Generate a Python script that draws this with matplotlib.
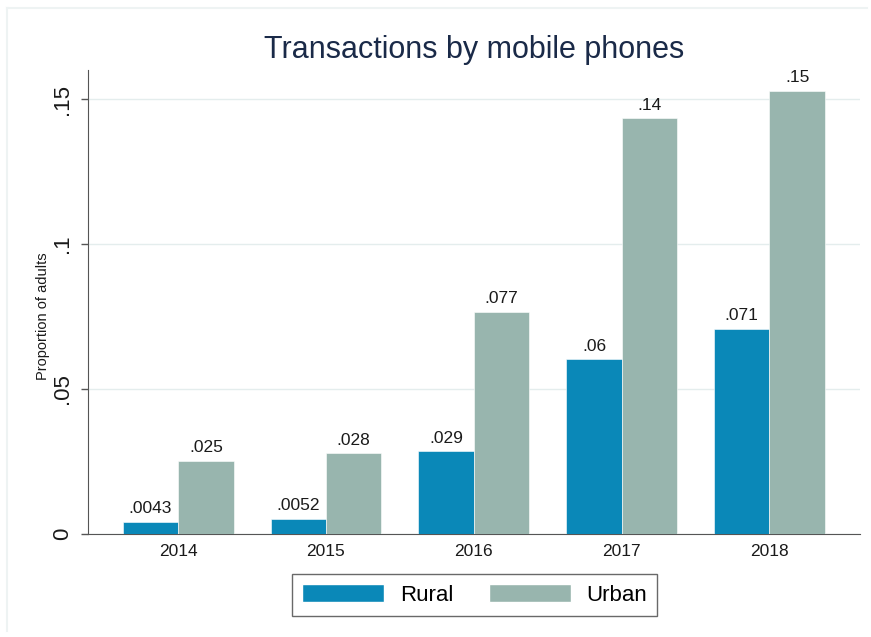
import matplotlib.pyplot as plt
from matplotlib.patches import Patch
from matplotlib.lines import Line2D
import numpy as np

plt.rcParams['font.family'] = ['Liberation Sans', 'DejaVu Sans']

years = ['2014', '2015', '2016', '2017', '2018']
rural = [0.0043, 0.0052, 0.0286, 0.0603, 0.0707]
urban = [0.0252, 0.0279, 0.0766, 0.1434, 0.1528]
rural_lbl = ['.0043', '.0052', '.029', '.06', '.071']
urban_lbl = ['.025', '.028', '.077', '.14', '.15']
yticks = [0, 0.05, 0.1, 0.15]
ytick_lbl = ['0', '.05', '.1', '.15']

c_rural = '#0a88b8'
c_urban = '#98b5ae'

fig = plt.figure(figsize=(8.71, 6.37), dpi=100)
ax = fig.add_axes([0.101, 0.1617, 0.886, 0.7283])

x = np.arange(len(years))
w = 0.375
b1 = ax.bar(x - w/2, rural, w, color=c_rural, edgecolor='white', linewidth=0.4, zorder=3)
b2 = ax.bar(x + w/2, urban, w, color=c_urban, edgecolor='white', linewidth=0.4, zorder=3)

for bars, labels in [(b1, rural_lbl), (b2, urban_lbl)]:
    for r, t in zip(bars, labels):
        ax.annotate(t, (r.get_x() + r.get_width()/2, r.get_height()),
                    xytext=(0, 4), textcoords='offset points',
                    ha='center', va='bottom', fontsize=12.5, color='#1a1a1a')

ax.set_xlim(-0.61, 4.61)
ax.set_ylim(0, 0.16)
ax.set_xticks(x)
ax.set_xticklabels(years, fontsize=12.5, color='#1a1a1a')
ax.tick_params(axis='x', length=0, pad=7)
ax.set_yticks(yticks)
ax.set_yticklabels(ytick_lbl, rotation=90, va='center', fontsize=16, color='#1a1a1a')
ax.tick_params(axis='y', length=5, width=1, color='#555555', pad=6)
ax.set_ylabel('Proportion of adults', fontsize=10.5, color='#1a1a1a')
ax.yaxis.set_label_coords(-0.049, 0.47)

ax.yaxis.grid(True, color='#e4eded', linewidth=1, zorder=0)
ax.set_axisbelow(True)
for s in ['top', 'right']:
    ax.spines[s].set_visible(False)
ax.spines['left'].set_color('#555555')
ax.spines['bottom'].set_color('#555555')

ax.set_title('Transactions by mobile phones', fontsize=22, color='#1a2a48', pad=9)

handles = [Patch(facecolor=c_rural, edgecolor='white'), Patch(facecolor=c_urban, edgecolor='white')]
leg = fig.legend(handles, ['Rural', 'Urban'], loc='center', bbox_to_anchor=(0.545, 0.066),
                 ncol=2, fontsize=16, frameon=True, fancybox=False,
                 handlelength=3.7, handleheight=0.9, columnspacing=1.6, handletextpad=0.7,
                 borderpad=0.45)
leg.get_frame().set_edgecolor('#444444')
leg.get_frame().set_linewidth(1)

# faint outer frame
fig.add_artist(Line2D([0.008, 0.995], [0.987, 0.987], color='#eef3f3', lw=1.5))
fig.add_artist(Line2D([0.008, 0.008], [0.01, 0.987], color='#eef3f3', lw=1.5))

fig.savefig('out.png', dpi=100)
